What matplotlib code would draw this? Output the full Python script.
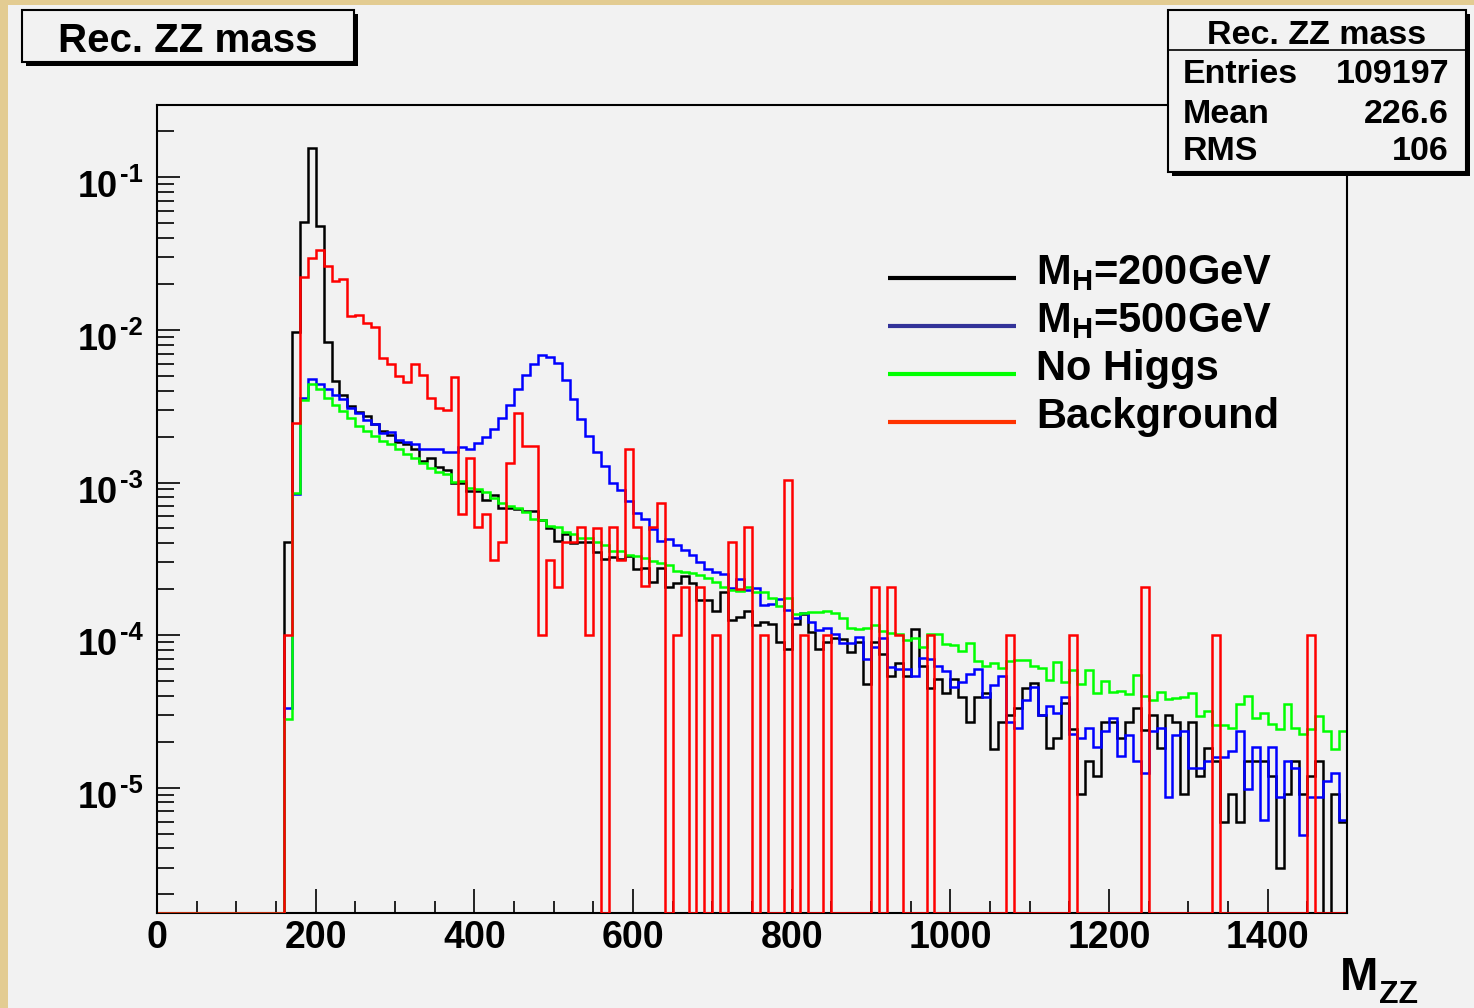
import numpy as np
import matplotlib
matplotlib.use("Agg")
import matplotlib.pyplot as plt
from matplotlib.patches import Rectangle
from matplotlib.lines import Line2D
from matplotlib.ticker import FixedLocator, NullFormatter
from matplotlib.transforms import blended_transform_factory, offset_copy

plt.rcParams['font.family'] = ['Liberation Sans', 'DejaVu Sans']
plt.rcParams['font.weight'] = 'bold'
plt.rcParams['mathtext.fontset'] = 'custom'
plt.rcParams['mathtext.rm'] = 'Liberation Sans:bold'
plt.rcParams['mathtext.bf'] = 'Liberation Sans:bold'
plt.rcParams['mathtext.it'] = 'Liberation Sans:bold'

# pixel helpers (reference is 1474x1008)
W, H = 1474, 1008
def fx(x): return x / W
def fy(y): return 1 - y / H

# ---- data: 150 bins of 10 GeV, 0..1500 ----
edges = np.arange(0, 1510, 10)

h200 = [0.0] * 16 + [
    4.06e-4, 9.7e-3, 0.0512, 0.156, 0.0482, 8.3e-3, 4.65e-3, 3.74e-3, 3.17e-3, 2.91e-3,
    2.74e-3, 2.42e-3, 2.19e-3, 2.05e-3, 1.83e-3, 1.79e-3, 1.67e-3, 1.39e-3, 1.45e-3, 1.26e-3,
    1.21e-3, 1.0e-3, 9.9e-4, 8.8e-4, 8.8e-4, 7.67e-4, 8.28e-4, 6.84e-4, 6.84e-4, 6.67e-4,
    6.5e-4, 6.5e-4, 5.68e-4, 5.01e-4, 4.16e-4, 4.58e-4, 4.04e-4, 4.1e-4, 4.1e-4, 3.52e-4,
    3.14e-4, 3.24e-4, 3.17e-4, 3.3e-4, 2.72e-4, 2.74e-4, 2.24e-4, 2.74e-4, 2.07e-4, 2.2e-4,
    2.45e-4, 2.18e-4, 1.7e-4, 1.7e-4, 1.44e-4, 1.92e-4, 1.26e-4, 1.32e-4, 1.44e-4, 1.16e-4,
    1.22e-4, 1.18e-4, 9.0e-5, 8.15e-5, 1.18e-4, 1.38e-4, 1.05e-4, 8.1e-5, 9.06e-5, 9.6e-5,
    9.5e-5, 7.8e-5, 9.06e-5, 4.78e-5, 9.06e-5, 7.48e-5, 5.4e-5, 6.6e-5, 5.4e-5, 1.09e-4,
    6.27e-5, 4.48e-5, 5.13e-5, 4.19e-5, 5.13e-5, 3.91e-5, 2.71e-5, 3.91e-5, 4.2e-5, 1.8e-5,
    2.71e-5, 2.99e-5, 3.31e-5, 4.48e-5, 4.83e-5, 2.99e-5, 1.81e-5, 2.11e-5, 3.6e-5, 2.41e-5,
    9.05e-6, 1.5e-5, 1.2e-5, 2.71e-5, 2.71e-5, 2.11e-5, 2.71e-5, 3.31e-5, 2.39e-5, 2.99e-5,
    1.81e-5, 2.99e-5, 2.71e-5, 9.05e-6, 2.71e-5, 1.2e-5, 1.81e-5, 1.5e-5, 6.0e-6, 9.05e-6,
    6.0e-6, 1.5e-5, 1.5e-5, 1.5e-5, 1.2e-5, 3.0e-6, 9.05e-6, 1.5e-5, 9.05e-6, 1.2e-5,
    1.5e-5, 0.0, 9.05e-6, 6.0e-6,
]

h500 = [0.0] * 16 + [
    3.31e-5, 8.4e-4, 3.6e-3, 4.75e-3, 4.42e-3, 4.08e-3, 3.74e-3, 3.5e-3, 3.09e-3, 2.86e-3,
    2.57e-3, 2.42e-3, 2.12e-3, 2.15e-3, 1.9e-3, 1.83e-3, 1.79e-3, 1.65e-3, 1.67e-3, 1.67e-3,
    1.59e-3, 1.59e-3, 1.72e-3, 1.66e-3, 1.81e-3, 1.98e-3, 2.23e-3, 2.63e-3, 3.22e-3, 4.08e-3,
    5.06e-3, 5.94e-3, 6.84e-3, 6.67e-3, 6.09e-3, 4.7e-3, 3.5e-3, 2.6e-3, 2.02e-3, 1.58e-3,
    1.28e-3, 1.0e-3, 8.9e-4, 7.56e-4, 6.27e-4, 5.74e-4, 4.96e-4, 4.16e-4, 4.25e-4, 3.89e-4,
    3.61e-4, 3.35e-4, 3.03e-4, 2.7e-4, 2.58e-4, 2.51e-4, 2.03e-4, 2.33e-4, 1.98e-4, 2.03e-4,
    1.57e-4, 1.6e-4, 1.72e-4, 1.46e-4, 1.29e-4, 1.4e-4, 1.22e-4, 1.08e-4, 1.11e-4, 1.02e-4,
    8.83e-5, 8.83e-5, 9.77e-5, 6.93e-5, 8.39e-5, 9.6e-5, 6.15e-5, 5.97e-5, 5.97e-5, 5.42e-5,
    7.05e-5, 6.93e-5, 6.27e-5, 5.82e-5, 4.59e-5, 4.95e-5, 5.56e-5, 6.03e-5, 3.95e-5, 4.71e-5,
    5.42e-5, 2.71e-5, 2.47e-5, 3.75e-5, 4.59e-5, 2.99e-5, 3.43e-5, 3.07e-5, 3.95e-5, 2.24e-5,
    2.11e-5, 2.47e-5, 1.86e-5, 2.35e-5, 2.85e-5, 1.61e-5, 2.21e-5, 1.5e-5, 1.24e-5, 2.35e-5,
    2.47e-5, 8.72e-6, 2.21e-5, 2.35e-5, 1.35e-5, 1.35e-5, 1.5e-5, 1.6e-5, 1.6e-5, 1.73e-5,
    2.35e-5, 9.8e-6, 1.86e-5, 6.14e-6, 1.86e-5, 8.72e-6, 1.5e-5, 1.35e-5, 4.9e-6, 8.72e-6,
    8.72e-6, 1.11e-5, 1.24e-5, 6.14e-6,
]

nohiggs = [0.0] * 16 + [
    2.82e-5, 8.5e-4, 3.47e-3, 4.42e-3, 4.08e-3, 3.6e-3, 3.22e-3, 2.94e-3, 2.63e-3, 2.36e-3,
    2.17e-3, 2.02e-3, 1.88e-3, 1.78e-3, 1.65e-3, 1.54e-3, 1.44e-3, 1.34e-3, 1.24e-3, 1.17e-3,
    1.13e-3, 1.01e-3, 1.02e-3, 9.2e-4, 9.1e-4, 8.7e-4, 7.95e-4, 7.38e-4, 7.02e-4, 6.78e-4,
    6.44e-4, 5.74e-4, 5.68e-4, 5.19e-4, 5.13e-4, 4.77e-4, 4.6e-4, 4.31e-4, 4.31e-4, 4.09e-4,
    3.89e-4, 3.57e-4, 3.57e-4, 3.33e-4, 3.3e-4, 3.18e-4, 3.06e-4, 2.95e-4, 2.88e-4, 2.63e-4,
    2.58e-4, 2.54e-4, 2.48e-4, 2.38e-4, 2.24e-4, 2.07e-4, 1.98e-4, 1.96e-4, 2.07e-4, 1.92e-4,
    1.92e-4, 1.76e-4, 1.55e-4, 1.74e-4, 1.38e-4, 1.39e-4, 1.41e-4, 1.41e-4, 1.43e-4, 1.39e-4,
    1.29e-4, 1.11e-4, 1.09e-4, 1.12e-4, 1.16e-4, 1.06e-4, 1.04e-4, 1.02e-4, 9.3e-5, 9.6e-5,
    8.32e-5, 1.02e-4, 1.02e-4, 8.75e-5, 8.6e-5, 7.9e-5, 8.83e-5, 6.79e-5, 6.3e-5, 6.53e-5,
    6.1e-5, 6.79e-5, 6.87e-5, 6.87e-5, 6.3e-5, 6.06e-5, 5.08e-5, 6.7e-5, 4.91e-5, 5.9e-5,
    4.78e-5, 5.9e-5, 4.19e-5, 5.03e-5, 4.22e-5, 4.33e-5, 4.1e-5, 5.48e-5, 3.98e-5, 3.75e-5,
    4.26e-5, 3.79e-5, 3.85e-5, 3.91e-5, 4.19e-5, 2.95e-5, 3.19e-5, 2.58e-5, 2.58e-5, 2.48e-5,
    3.53e-5, 3.98e-5, 2.88e-5, 3.1e-5, 2.62e-5, 2.44e-5, 3.53e-5, 2.47e-5, 2.24e-5, 2.41e-5,
    2.95e-5, 2.36e-5, 1.79e-5, 2.36e-5,
]

background = [0.0] * 16 + [
    1.0e-4, 2.47e-3, 0.0221, 0.0297, 0.0334, 0.0262, 0.0210, 0.0217, 0.0123, 0.0125,
    0.0111, 0.0105, 6.5e-3, 5.97e-3, 5.0e-3, 4.58e-3, 5.97e-3, 5.06e-3, 3.6e-3, 3.06e-3,
    2.98e-3, 4.93e-3, 6.2e-4, 1.44e-3, 5.13e-4, 6.2e-4, 3.1e-4, 4.09e-4, 1.34e-3, 2.86e-3,
    1.73e-3, 1.74e-3, 1.0e-4, 3.1e-4, 2.07e-4, 4.09e-4, 4.09e-4, 5.13e-4, 1.0e-4, 5.0e-4,
    0.0, 5.13e-4, 3.1e-4, 1.65e-3, 5.13e-4, 2.1e-4, 5.1e-4, 7.3e-4, 0.0, 1.0e-4,
    2.07e-4, 0.0, 2.07e-4, 0.0, 1.0e-4, 0.0, 4.1e-4, 2.0e-4, 5.13e-4, 0.0,
    1.0e-4, 0.0, 0.0, 1.04e-3, 0.0, 1.0e-4, 0.0, 0.0, 1.0e-4, 0.0,
    0.0, 0.0, 0.0, 0.0, 2.07e-4, 0.0, 2.07e-4, 1.0e-4, 0.0, 0.0,
    0.0, 1.0e-4, 0.0, 0.0, 0.0, 0.0, 0.0, 0.0, 0.0, 0.0,
    0.0, 1.0e-4, 0.0, 0.0, 0.0, 0.0, 0.0, 0.0, 0.0, 1.0e-4,
    0.0, 0.0, 0.0, 0.0, 0.0, 0.0, 0.0, 0.0, 2.07e-4, 0.0,
    0.0, 0.0, 0.0, 0.0, 0.0, 0.0, 0.0, 1.0e-4, 0.0, 0.0,
    0.0, 0.0, 0.0, 0.0, 0.0, 0.0, 0.0, 0.0, 0.0, 1.0e-4,
    0.0, 0.0, 0.0, 0.0,
]

labels = [r'$\mathbf{M_H}$=200GeV', r'$\mathbf{M_H}$=500GeV', 'No Higgs', 'Background']
stats_title = 'Rec. ZZ mass'
stats_rows = [('Entries', '109197'), ('Mean', '226.6'), ('RMS', '106')]
decades = [1e-5, 1e-4, 1e-3, 1e-2, 1e-1]
exponents = ['-5', '-4', '-3', '-2', '-1']

YMIN, YMAX = 1.51e-6, 0.2977

# ---- figure ----
fig = plt.figure(figsize=(W / 100, H / 100), dpi=100, facecolor='#e3cc92')
fig.add_artist(Rectangle((fx(8), 0), 1 - fx(8), fy(5), transform=fig.transFigure,
                         facecolor='#f2f2f2', edgecolor='none', zorder=-10))

ax = fig.add_axes([fx(157), fy(913), fx(1347) - fx(157), fy(105) - fy(913)])
ax.set_facecolor('#f2f2f2')
ax.set_yscale('log')

series = [(h200, 'black'), (h500, '#0000ff'), (nohiggs, '#00ff00'), (background, '#ff0000')]
for i, (vals, col) in enumerate(series):
    v = np.array(vals)
    v = np.where(v > 0, v, YMIN)
    ax.stairs(v, edges, baseline=None, color=col, lw=1.8, zorder=2 + i)

ax.set_xlim(0, 1500)
ax.set_ylim(YMIN, YMAX)

for s in ax.spines.values():
    s.set_linewidth(1.5)
    s.set_zorder(10)
ax.spines['bottom'].set_zorder(1)

# x ticks
ax.xaxis.set_major_locator(FixedLocator(np.arange(0, 1401, 200)))
ax.xaxis.set_minor_locator(FixedLocator([x for x in range(50, 1500, 50) if x % 200]))
ax.tick_params(axis='x', which='major', direction='in', length=17, width=1.2, pad=5,
               labelsize=27, top=False)
ax.tick_params(axis='x', which='minor', direction='in', length=8.5, width=1.2, top=False)
for t in ax.get_xticklabels():
    t.set_fontweight('bold')

# y ticks (log), labels drawn ROOT-style as "10" + raised exponent
ax.yaxis.set_major_locator(FixedLocator(decades))
ax.yaxis.set_major_formatter(NullFormatter())
minors = [m * 10.0 ** e for e in range(-6, 0) for m in range(2, 10)]
ax.yaxis.set_minor_locator(FixedLocator([m for m in minors if YMIN < m < YMAX]))
ax.yaxis.set_minor_formatter(NullFormatter())
ax.tick_params(axis='y', which='major', direction='in', length=16.5, width=1.2, right=False)
ax.tick_params(axis='y', which='minor', direction='in', length=12, width=1.2, right=False)

ylab_tr = blended_transform_factory(fig.transFigure, ax.transData)
for d, e in zip(decades, exponents):
    ax.text(fx(118), d, '10', transform=offset_copy(ylab_tr, fig=fig, y=-20, units='dots'),
            ha='right', va='baseline', fontsize=26, fontweight='bold', clip_on=False)
    ax.text(fx(120), d, e, transform=offset_copy(ylab_tr, fig=fig, y=-5, units='dots'),
            ha='left', va='baseline', fontsize=18.5, fontweight='bold', clip_on=False)

# axis title
fig.text(fx(1378), fy(990), 'M', ha='right', va='baseline', fontsize=33, fontweight='bold')
fig.text(fx(1379), fy(1003), 'ZZ', ha='left', va='baseline', fontsize=23, fontweight='bold')

# legend (drawn by hand, ROOT style)
leg_cols = ['black', '#333399', '#00ff00', '#ff3300']
leg_y = [278, 326, 374, 422]
for lab, col, y in zip(labels, leg_cols, leg_y):
    fig.add_artist(Line2D([fx(888), fx(1016)], [fy(y), fy(y)], transform=fig.transFigure,
                          color=col, lw=3, solid_capstyle='butt', zorder=20))
    fig.text(fx(1036), fy(y + 6), lab, ha='left', va='baseline', fontsize=30,
             fontweight='bold', zorder=20)

# boxes with ROOT drop shadow
def box(x0, y0, x1, y1):
    fig.add_artist(Rectangle((fx(x0 + 4), fy(y1 + 4)), fx(x1 - x0), fy(y0) - fy(y1),
                             transform=fig.transFigure, facecolor='black',
                             edgecolor='none', zorder=20))
    fig.add_artist(Rectangle((fx(x0), fy(y1)), fx(x1 - x0), fy(y0) - fy(y1),
                             transform=fig.transFigure, facecolor='#f2f2f2',
                             edgecolor='black', lw=1.5, zorder=21))

box(22, 10, 354, 62)
fig.text(fx(188), fy(52), stats_title, ha='center', va='baseline', fontsize=29,
         fontweight='bold', zorder=22)

# stats box
box(1168, 10, 1466, 172)
fig.add_artist(Line2D([fx(1168), fx(1466)], [fy(50), fy(50)], transform=fig.transFigure,
                      color='black', lw=1.2, zorder=22))
fig.text(fx(1317), fy(44), stats_title, ha='center', va='baseline', fontsize=24.5,
         fontweight='bold', zorder=22)
for (name, val), yb in zip(stats_rows, [83, 123, 160]):
    fig.text(fx(1183), fy(yb), name, ha='left', va='baseline', fontsize=24.5,
             fontweight='bold', zorder=22)
    fig.text(fx(1449), fy(yb), val, ha='right', va='baseline', fontsize=24.5,
             fontweight='bold', zorder=22)

fig.savefig('out.png', dpi=100, facecolor=fig.get_facecolor())
